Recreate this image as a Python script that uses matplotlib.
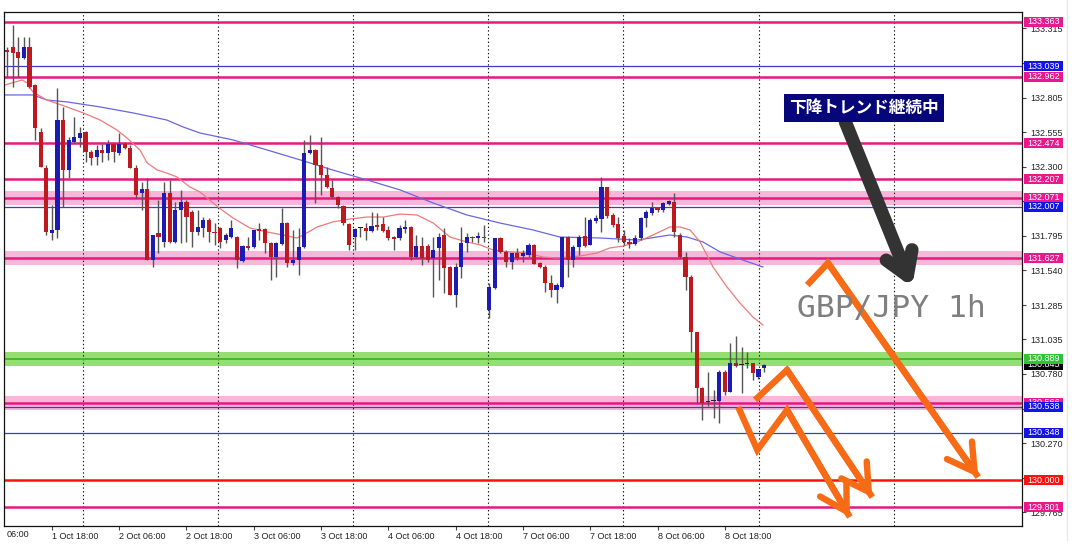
import matplotlib
matplotlib.use("Agg")
import matplotlib.pyplot as plt
import matplotlib.transforms as mtransforms
from matplotlib.patches import Rectangle
from matplotlib.lines import Line2D
import numpy as np

# ---------------- data (GBP/JPY, 1h) ----------------
opens = [
    133.160, 133.179, 133.143, 133.099, 133.179, 132.900, 132.555, 132.291, 131.814, 131.836,
    132.643, 132.276, 132.482, 132.511, 132.555, 132.409, 132.372, 132.423, 132.401, 132.467,
    132.401, 132.467, 132.438, 132.291, 132.107, 132.137, 131.615, 131.814, 131.748, 132.107,
    131.748, 131.983, 132.041, 131.968, 131.821, 131.851, 131.909, 131.821, 131.851, 131.762,
    131.784, 131.784, 131.608, 131.718, 131.711, 131.843, 131.843, 131.740, 131.637, 131.733,
    131.887, 131.593, 131.615, 131.711, 132.401, 132.423, 132.313, 132.240, 132.144, 132.078,
    132.012, 131.880, 131.784, 131.851, 131.851, 131.828, 131.873, 131.880, 131.836, 131.784,
    131.777, 131.843, 131.858, 131.637, 131.718, 131.718, 131.630, 131.704, 131.799, 131.564,
    131.359, 131.564, 131.740, 131.784, 131.777, 131.784, 131.248, 131.410, 131.777, 131.674,
    131.601, 131.667, 131.645, 131.652, 131.726, 131.593, 131.564, 131.447, 131.395, 131.417,
    131.784, 131.615, 131.711, 131.792, 131.726, 131.902, 131.917, 132.152, 131.946, 131.880,
    131.792, 131.748, 131.733, 131.777, 131.924, 131.961, 131.997, 131.983, 132.027, 132.041,
    131.799, 131.637, 131.491, 131.087, 130.676, 130.573, 130.580, 130.580, 130.793, 130.646,
    130.859, 130.845, 130.852, 130.859, 130.757, 130.823]
highs = [
    133.180, 133.341, 133.253, 133.253, 133.253, 132.905, 132.585, 132.313, 132.019, 132.878,
    132.739, 132.519, 132.665, 132.592, 132.562, 132.423, 132.460, 132.467, 132.497, 132.475,
    132.548, 132.482, 132.460, 132.313, 132.188, 132.218, 131.799, 132.056, 132.188, 132.203,
    132.041, 132.130, 132.056, 131.983, 131.983, 131.931, 131.924, 131.887, 131.858, 131.814,
    131.909, 131.790, 131.726, 131.784, 131.836, 131.887, 131.848, 131.745, 131.745, 131.997,
    131.895, 131.836, 131.851, 132.497, 132.533, 132.430, 132.519, 132.298, 132.203, 132.085,
    132.019, 131.885, 131.851, 131.858, 131.887, 131.968, 131.961, 131.931, 131.865, 131.790,
    131.873, 131.909, 131.865, 131.799, 131.784, 131.733, 131.784, 131.814, 131.851, 131.570,
    131.593, 131.858, 131.814, 131.790, 131.821, 131.873, 131.447, 131.777, 131.784, 131.689,
    131.667, 131.704, 131.689, 131.740, 131.730, 131.600, 131.579, 131.505, 131.447, 131.784,
    131.790, 131.726, 131.799, 131.931, 131.924, 131.946, 132.225, 132.155, 131.961, 131.931,
    131.836, 131.777, 131.799, 131.931, 131.983, 132.041, 132.005, 132.041, 132.056, 132.107,
    131.814, 131.674, 131.505, 131.087, 130.680, 130.793, 130.661, 130.808, 130.808, 131.006,
    131.058, 130.977, 130.940, 130.862, 130.815, 130.850]
lows = [
    132.960, 132.886, 132.959, 133.092, 132.878, 132.497, 132.298, 131.799, 131.762, 131.777,
    132.005, 132.218, 132.475, 132.445, 132.335, 132.313, 132.313, 132.335, 132.350, 132.335,
    132.386, 132.430, 132.291, 132.071, 131.983, 131.615, 131.564, 131.667, 131.711, 131.740,
    131.740, 131.740, 131.748, 131.711, 131.799, 131.784, 131.748, 131.726, 131.704, 131.740,
    131.777, 131.557, 131.601, 131.689, 131.704, 131.762, 131.667, 131.469, 131.491, 131.726,
    131.564, 131.579, 131.505, 131.704, 132.395, 132.034, 132.093, 132.144, 132.071, 131.997,
    131.873, 131.689, 131.689, 131.784, 131.762, 131.821, 131.836, 131.821, 131.762, 131.689,
    131.762, 131.814, 131.615, 131.630, 131.579, 131.601, 131.344, 131.469, 131.373, 131.359,
    131.270, 131.483, 131.674, 131.750, 131.740, 131.748, 131.190, 131.405, 131.667, 131.564,
    131.550, 131.615, 131.601, 131.637, 131.586, 131.557, 131.381, 131.344, 131.300, 131.410,
    131.491, 131.564, 131.652, 131.711, 131.726, 131.887, 131.821, 131.924, 131.858, 131.748,
    131.726, 131.704, 131.726, 131.762, 131.857, 131.946, 131.968, 131.968, 132.019, 131.784,
    131.630, 131.395, 130.940, 130.566, 130.442, 130.544, 130.456, 130.420, 130.624, 130.646,
    130.830, 130.639, 130.823, 130.735, 130.742, 130.793]
closes = [
    133.145, 133.135, 133.099, 133.179, 132.886, 132.585, 132.298, 131.821, 131.836, 132.643,
    132.276, 132.497, 132.519, 132.548, 132.409, 132.364, 132.423, 132.401, 132.467, 132.409,
    132.467, 132.438, 132.291, 132.093, 132.137, 131.615, 131.799, 131.784, 132.107, 131.748,
    131.983, 132.041, 131.931, 131.821, 131.858, 131.909, 131.821, 131.814, 131.748, 131.799,
    131.851, 131.615, 131.718, 131.704, 131.836, 131.828, 131.740, 131.637, 131.740, 131.887,
    131.593, 131.615, 131.711, 132.401, 132.423, 132.313, 132.240, 132.152, 132.078, 132.019,
    131.887, 131.726, 131.843, 131.853, 131.828, 131.865, 131.858, 131.828, 131.777, 131.770,
    131.851, 131.858, 131.637, 131.718, 131.630, 131.615, 131.689, 131.784, 131.557, 131.359,
    131.564, 131.740, 131.784, 131.777, 131.792, 131.777, 131.417, 131.777, 131.674, 131.601,
    131.667, 131.630, 131.667, 131.726, 131.586, 131.564, 131.447, 131.395, 131.432, 131.784,
    131.615, 131.711, 131.784, 131.718, 131.909, 131.924, 132.152, 131.939, 131.873, 131.777,
    131.748, 131.733, 131.777, 131.924, 131.968, 131.997, 131.983, 132.034, 132.049, 131.821,
    131.637, 131.491, 131.087, 130.676, 130.566, 130.571, 130.582, 130.793, 130.646, 130.859,
    130.837, 130.843, 130.850, 130.786, 130.815, 130.845]

# moving averages (bar index, price)
ma_fast_x = [-0.4, 2.7, 3.6, 4.6, 7.1, 10.7, 13.6, 16.6, 19.6, 21.4, 23.7, 25.0, 26.8, 28.5,
             30.3, 32.6, 34.4, 37.6, 40.3, 43.3, 46.4, 49.2, 51.7, 52.8, 55.3, 58.1, 61.2,
             64.2, 67.1, 70.1, 73.1, 76.0, 79.0, 82.0, 84.4, 86.7, 89.7, 92.7, 95.6, 98.1,
             99.9, 102.2, 105.2, 107.5, 109.9, 112.4, 115.2, 118.2, 120.0, 121.8, 123.6,
             125.9, 128.4, 130.7, 133.0, 134.8]
ma_fast_y = [132.900, 132.937, 132.915, 132.849, 132.790, 132.739, 132.695, 132.643, 132.570,
             132.511, 132.423, 132.328, 132.276, 132.254, 132.225, 132.152, 132.115, 132.005,
             131.924, 131.851, 131.821, 131.799, 131.777, 131.799, 131.858, 131.895, 131.917,
             131.931, 131.931, 131.953, 131.946, 131.887, 131.784, 131.748, 131.726, 131.689,
             131.674, 131.667, 131.637, 131.630, 131.637, 131.645, 131.667, 131.704, 131.718,
             131.748, 131.799, 131.858, 131.858, 131.836, 131.748, 131.564, 131.417, 131.300,
             131.197, 131.138]
ma_slow_x = [-0.4, 4.6, 7.1, 10.7, 16.6, 22.5, 28.5, 31.4, 34.4, 40.3, 46.4, 52.3, 58.1, 64.2,
             70.1, 76.0, 82.0, 87.9, 93.8, 98.6, 105.8, 112.4, 118.2, 121.3, 124.1, 127.2,
             130.2, 134.8]
ma_slow_y = [132.827, 132.827, 132.790, 132.776, 132.739, 132.695, 132.643, 132.592, 132.548,
             132.497, 132.423, 132.350, 132.276, 132.203, 132.130, 132.034, 131.946, 131.887,
             131.836, 131.784, 131.777, 131.762, 131.799, 131.784, 131.748, 131.674, 131.630,
             131.564]

# time axis
time_tick_pos = [8, 20, 32, 44, 56, 68, 80, 92, 104, 116, 128]
time_tick_labels = ["1 Oct 18:00", "2 Oct 06:00", "2 Oct 18:00", "3 Oct 06:00", "3 Oct 18:00",
                    "4 Oct 06:00", "4 Oct 18:00", "7 Oct 06:00", "7 Oct 18:00", "8 Oct 06:00",
                    "8 Oct 18:00"]
first_label_pos = 0
first_label = "06:00"
grid_x = [13.55, 37.63, 61.71, 85.79, 109.86, 134.12, 158.2]

# price axis
price_ticks = [133.315, 133.060, 132.805, 132.555, 132.300, 132.045, 131.795, 131.540,
               131.285, 131.035, 130.780, 130.525, 130.270, 130.015, 129.765]
price_tick_labels = ["133.315", "133.060", "132.805", "132.555", "132.300", "132.045",
                     "131.795", "131.540", "131.285", "131.035", "130.780", "130.525",
                     "130.270", "130.015", "129.765"]

# horizontal levels
level_prices = [133.363, 133.039, 132.962, 132.474, 132.207, 132.071, 132.007, 131.627,
                130.889, 130.566, 130.538, 130.348, 130.000, 129.801]
level_kinds = ["mag", "blue", "mag", "mag", "mag", "magband", "blue", "magband",
               "greenband", "magband", "blue", "blue", "red", "mag"]

# annotations (bar index, price)
orange_paths = [
    ([142.7, 146.4, 173.2], [131.432, 131.593, 130.022]),
    ([133.4, 139.1, 154.3], [130.588, 130.808, 129.875]),
    ([130.4, 133.8, 139.1, 150.3], [130.536, 130.221, 130.514, 129.729]),
]
gray_arrow = ((149.5, 132.629), (161.4, 131.417))
note_text = "下降トレンド継続中"
note_pos = (152.8, 132.732)
pair_text = "GBP/JPY 1h"
pair_pos = (140.9, 131.256)

# ---------------- style ----------------
W, H = 1076, 550
MAG = "#E5197F"
MAG_BOX = "#E8198C"
PINK_BAND = "#F8B6D9"
BLUE_LINE = "#3A3AD6"
BLUE_BOX = "#1414E6"
GREEN_BAND = "#95DE72"
GREEN_LINE = "#45B92B"
GREEN_BOX = "#33C233"
RED = "#FF1010"
BULL = "#1C1CB4"
BEAR = "#BC1A1E"
WICK = "#555555"
ORANGE = "#F76B16"
FONT = "Liberation Sans"

fig = plt.figure(figsize=(W / 100, H / 100), dpi=100)
ax_top, ax_bot, ax_left, ax_right = 12, 526, 4, 1022
ax = fig.add_axes([ax_left / W, (H - ax_bot) / H, (ax_right - ax_left) / W, (ax_bot - ax_top) / H])
ymin, ymax = 129.663, 133.436
xmin, xmax = -0.54, 181.0
ax.set_xlim(xmin, xmax)
ax.set_ylim(ymin, ymax)
px = (ymax - ymin) / (ax_bot - ax_top)

# levels
for p, k in zip(level_prices, level_kinds):
    if k == "mag":
        ax.axhline(p, color=MAG, lw=1.8, zorder=2)
    elif k == "magband":
        ax.axhspan(p - 7 * px, p + 7 * px, color=PINK_BAND, lw=0, zorder=1)
        ax.axhline(p, color=MAG, lw=1.8, zorder=2)
    elif k == "blue":
        ax.axhline(p, color=BLUE_LINE, lw=0.9, zorder=2)
    elif k == "greenband":
        ax.axhspan(p - 7 * px, p + 7 * px, color=GREEN_BAND, lw=0, zorder=1)
        ax.axhline(p, color=GREEN_LINE, lw=1.4, zorder=2)
    elif k == "red":
        ax.axhline(p, color=RED, lw=1.8, zorder=2)

for gx in grid_x:
    ax.axvline(gx, color="#111111", lw=0.8, ls=(0, (1.2, 2.2)), zorder=1.5)

# moving averages
ax.plot(ma_slow_x, ma_slow_y, color="#6767E2", lw=0.9, zorder=2.5)
ax.plot(ma_fast_x, ma_fast_y, color="#F07A7A", lw=0.9, zorder=2.5)

# candles
o = np.array(opens); h = np.array(highs); l = np.array(lows); c = np.array(closes)
x = np.arange(len(o))
ax.vlines(x, l, h, colors=WICK, lw=1.0, zorder=3)
body_lo = np.minimum(o, c)
body_h = np.maximum(np.abs(c - o), 1.3 * px)
doji = np.abs(c - o) < 0.004
up = (c > o) & ~doji
dn = (c < o) & ~doji
ax.bar(x[up], body_h[up], bottom=body_lo[up], width=0.74, color=BULL, lw=0, zorder=4)
ax.bar(x[dn], body_h[dn], bottom=body_lo[dn], width=0.74, color=BEAR, lw=0, zorder=4)
ax.bar(x[doji], body_h[doji], bottom=body_lo[doji], width=0.8, color="#222222", lw=0, zorder=4)

# annotations
for xs, ys in orange_paths:
    ax.plot(xs, ys, color=ORANGE, lw=4.6, solid_joinstyle="miter", solid_capstyle="butt", zorder=6)
    ax.annotate("", xy=(xs[-1], ys[-1]), xytext=(xs[-2], ys[-2]),
                arrowprops=dict(arrowstyle="->,head_length=1.9,head_width=1.1", lw=4.6,
                                color=ORANGE, shrinkA=0, shrinkB=0), zorder=6)
ax.annotate("", xy=gray_arrow[1], xytext=gray_arrow[0],
            arrowprops=dict(arrowstyle="->,head_length=1.6,head_width=1.0", lw=9.5,
                            color="#333333", shrinkA=0, shrinkB=0), zorder=6)
ax.text(note_pos[0], note_pos[1], note_text, family=["Noto Sans CJK JP"], fontweight="bold",
        fontsize=12, color="white", ha="center", va="center", zorder=8,
        bbox=dict(boxstyle="square,pad=0.3", fc="#06067A", ec="none"))
ax.text(pair_pos[0], pair_pos[1], pair_text, family=["DejaVu Sans Mono"], fontsize=22.5,
        color="#7F7F7F", ha="left", va="center", zorder=7)

# axes styling
for s in ax.spines.values():
    s.set_color("#111111")
    s.set_linewidth(0.9)
ax.set_xticks(time_tick_pos)
ax.set_xticklabels(time_tick_labels, ha="left", family=FONT, fontsize=6.5, color="#222222")
ax.tick_params(axis="x", direction="out", length=3, pad=1.5, color="#444444")
ax.text(first_label_pos, -0.0085, first_label,
        transform=mtransforms.blended_transform_factory(ax.transData, ax.transAxes),
        ha="left", va="top", family=FONT, fontsize=6.5, color="#222222", clip_on=False)
ax.yaxis.tick_right()
ax.set_yticks(price_ticks)
ax.set_yticklabels(price_tick_labels, family=FONT, fontsize=6.5, color="#222222")
ax.tick_params(axis="y", direction="out", length=3, pad=3, color="#444444")

# price labels on the right axis
trans = mtransforms.blended_transform_factory(ax.transAxes, ax.transData)
bx0 = (1024 - ax_left) / (ax_right - ax_left)
bw = 39 / (ax_right - ax_left)

def price_box(p, txt, fc, z):
    ax.add_patch(Rectangle((bx0, p - 5 * px), bw, 10 * px, transform=trans, facecolor=fc,
                           edgecolor="none", clip_on=False, zorder=z))
    ax.text(bx0 + bw / 2, p, txt, transform=trans, ha="center", va="center", color="white",
            fontsize=6.5, family=FONT, zorder=z + 0.1, clip_on=False)

box_color = {"mag": MAG_BOX, "magband": MAG_BOX, "blue": BLUE_BOX, "greenband": GREEN_BOX, "red": RED}
price_box(closes[-1], f"{closes[-1]:.3f}", "#000000", 10)
order = [0, 2, 3, 4, 5, 6, 7, 9, 10, 11, 8, 12, 13, 1]
for i in order:
    price_box(level_prices[i], f"{level_prices[i]:.3f}", box_color[level_kinds[i]], 11 + i * 0.2)

fig.add_artist(Line2D([1067 / W, 1067 / W], [10 / H, 1], color="#E8E8E8", lw=1))

fig.savefig("out.png", dpi=100)
